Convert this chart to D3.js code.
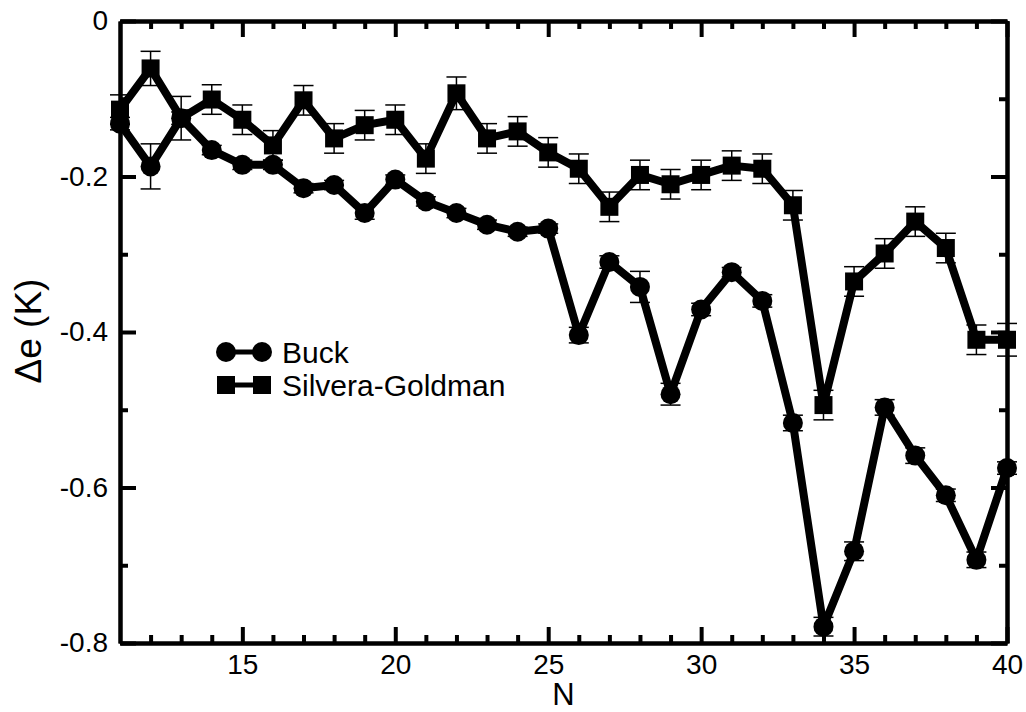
<!DOCTYPE html>
<html>
<head>
<meta charset="utf-8">
<script src="https://cdn.jsdelivr.net/npm/d3@7"></script>
<style>
  body { margin: 0; background: #fff; }
  text { font-family: "Liberation Sans", Arial, Helvetica, sans-serif; fill: #000; }
</style>
</head>
<body>
<div id="c1"></div>
<script>
// data
var Ns = [11,12,13,14,15,16,17,18,19,20,21,22,23,24,25,26,27,28,29,30,31,32,33,34,35,36,37,38,39,40];
var buck = [-0.132,-0.187,-0.125,-0.166,-0.185,-0.185,-0.215,-0.211,-0.247,-0.204,
            -0.232,-0.247,-0.262,-0.271,-0.267,-0.404,-0.310,-0.342,-0.480,-0.371,
            -0.323,-0.360,-0.517,-0.779,-0.682,-0.497,-0.559,-0.610,-0.693,-0.575];
var buckErr = [0.008,0.029,0.008,0.006,0.006,0.006,0.006,0.006,0.008,0.006,
               0.006,0.006,0.006,0.006,0.006,0.010,0.008,0.020,0.014,0.008,
               0.006,0.008,0.010,0.012,0.012,0.010,0.010,0.008,0.010,0.008];
var silvera = [-0.114,-0.061,-0.125,-0.101,-0.127,-0.160,-0.102,-0.151,-0.134,-0.127,
               -0.177,-0.093,-0.151,-0.142,-0.169,-0.190,-0.239,-0.198,-0.210,-0.198,
               -0.186,-0.190,-0.237,-0.494,-0.335,-0.299,-0.258,-0.292,-0.410,-0.410];
var silveraErr = [0.019,0.022,0.028,0.019,0.019,0.019,0.019,0.019,0.019,0.019,
                  0.019,0.021,0.019,0.019,0.019,0.019,0.019,0.019,0.019,0.019,
                  0.019,0.019,0.019,0.019,0.019,0.019,0.019,0.019,0.019,0.021];
var xMajor = [15,20,25,30,35,40];
var xMinor = [12,13,14,16,17,18,19,21,22,23,24,26,27,28,29,31,32,33,34,36,37,38,39];
var yMajor = [0,-0.2,-0.4,-0.6,-0.8];
var yMinor = [-0.1,-0.3,-0.5,-0.7];
var seriesNames = ["Buck", "Silvera-Goldman"];

var w = 1026, h = 712;
var pLeft = 120, pRight = 1007, pTop = 21, pBottom = 643;

var svg = d3.select("#c1").append("svg")
    .attr("width", w)
    .attr("height", h);

var x = d3.scaleLinear().domain([11, 40]).range([pLeft, pRight]);
var y = d3.scaleLinear().domain([-0.8, 0]).range([pBottom, pTop]);

var fmtY = function (d) { return d === 0 ? "0" : d.toFixed(1); };

function styleAxis(g) {
    g.selectAll("path.domain").attr("stroke", "#000").attr("stroke-width", 4);
    g.selectAll(".tick line").attr("stroke", "#000").attr("stroke-width", 4);
    g.selectAll("text").attr("font-size", 28).attr("fill", "#000")
        .attr("font-family", "Liberation Sans, Arial, sans-serif");
}

// bottom
svg.append("g").attr("transform", "translate(0," + pBottom + ")")
    .call(d3.axisBottom(x).tickValues(xMajor).tickSize(-16).tickSizeOuter(0).tickPadding(11).tickFormat(d3.format("d")))
    .call(styleAxis);
svg.append("g").attr("transform", "translate(0," + pBottom + ")")
    .call(d3.axisBottom(x).tickValues(xMinor).tickSize(-8).tickSizeOuter(0).tickFormat(""))
    .call(styleAxis);
// top
svg.append("g").attr("transform", "translate(0," + pTop + ")")
    .call(d3.axisTop(x).tickValues(xMajor).tickSize(-16).tickSizeOuter(0).tickFormat(""))
    .call(styleAxis);
svg.append("g").attr("transform", "translate(0," + pTop + ")")
    .call(d3.axisTop(x).tickValues(xMinor).tickSize(-8).tickSizeOuter(0).tickFormat(""))
    .call(styleAxis);
// left
svg.append("g").attr("transform", "translate(" + pLeft + ",0)")
    .call(d3.axisLeft(y).tickValues(yMajor).tickSize(-16).tickSizeOuter(0).tickPadding(12).tickFormat(fmtY))
    .call(styleAxis);
svg.append("g").attr("transform", "translate(" + pLeft + ",0)")
    .call(d3.axisLeft(y).tickValues(yMinor).tickSize(-8).tickSizeOuter(0).tickFormat(""))
    .call(styleAxis);
// right
svg.append("g").attr("transform", "translate(" + pRight + ",0)")
    .call(d3.axisRight(y).tickValues(yMajor).tickSize(-16).tickSizeOuter(0).tickFormat(""))
    .call(styleAxis);
svg.append("g").attr("transform", "translate(" + pRight + ",0)")
    .call(d3.axisRight(y).tickValues(yMinor).tickSize(-8).tickSizeOuter(0).tickFormat(""))
    .call(styleAxis);

// axis titles
svg.append("text")
    .attr("x", (pLeft + pRight) / 2)
    .attr("y", 705)
    .attr("text-anchor", "middle")
    .attr("font-size", 31)
    .text("N");

svg.append("text")
    .attr("transform", "translate(41," + 331 + ") rotate(-90)")
    .attr("text-anchor", "middle")
    .attr("font-size", 37)
    .text("\u0394e (K)");

// series
var line = d3.line()
    .x(function (d) { return x(d.n); })
    .y(function (d) { return y(d.v); });

function pack(vals, errs) {
    return Ns.map(function (n, i) { return { n: n, v: vals[i], e: errs[i] }; });
}
var buckData = pack(buck, buckErr);
var silveraData = pack(silvera, silveraErr);

[buckData, silveraData].forEach(function (data) {
    svg.append("path")
        .datum(data)
        .attr("d", line)
        .attr("fill", "none")
        .attr("stroke", "#000")
        .attr("stroke-width", 8)
        .attr("stroke-linejoin", "round");
});

function errorBars(data) {
    var g = svg.append("g");
    g.selectAll("line.v").data(data).enter().append("line")
        .attr("x1", function (d) { return x(d.n); })
        .attr("x2", function (d) { return x(d.n); })
        .attr("y1", function (d) { return y(d.v + d.e); })
        .attr("y2", function (d) { return y(d.v - d.e); })
        .attr("stroke", "#000").attr("stroke-width", 1.5);
    [1, -1].forEach(function (s) {
        g.selectAll("line.c" + s).data(data).enter().append("line")
            .attr("x1", function (d) { return x(d.n) - 10; })
            .attr("x2", function (d) { return x(d.n) + 10; })
            .attr("y1", function (d) { return y(d.v + s * d.e); })
            .attr("y2", function (d) { return y(d.v + s * d.e); })
            .attr("stroke", "#000").attr("stroke-width", 1.5);
    });
}
errorBars(buckData);
errorBars(silveraData);

svg.append("g").selectAll("circle")
    .data(buckData)
    .enter().append("circle")
    .attr("cx", function (d) { return x(d.n); })
    .attr("cy", function (d) { return y(d.v); })
    .attr("r", 10)
    .attr("fill", "#000");

svg.append("g").selectAll("rect")
    .data(silveraData)
    .enter().append("rect")
    .attr("x", function (d) { return x(d.n) - 9; })
    .attr("y", function (d) { return y(d.v) - 9; })
    .attr("width", 18)
    .attr("height", 18)
    .attr("fill", "#000");

// legend
var lg = svg.append("g");
var legY = [352, 385];
lg.append("line").attr("x1", 226).attr("x2", 262).attr("y1", legY[0]).attr("y2", legY[0])
    .attr("stroke", "#000").attr("stroke-width", 5);
[226, 262].forEach(function (cx) {
    lg.append("circle").attr("cx", cx).attr("cy", legY[0]).attr("r", 10).attr("fill", "#000");
});
lg.append("line").attr("x1", 226).attr("x2", 262).attr("y1", legY[1]).attr("y2", legY[1])
    .attr("stroke", "#000").attr("stroke-width", 5);
[226, 262].forEach(function (cx) {
    lg.append("rect").attr("x", cx - 9).attr("y", legY[1] - 9).attr("width", 18).attr("height", 18).attr("fill", "#000");
});
seriesNames.forEach(function (name, i) {
    lg.append("text")
        .attr("x", 282)
        .attr("y", legY[i] + 11)
        .attr("font-size", 30)
        .text(name);
});
</script>
</body>
</html>
